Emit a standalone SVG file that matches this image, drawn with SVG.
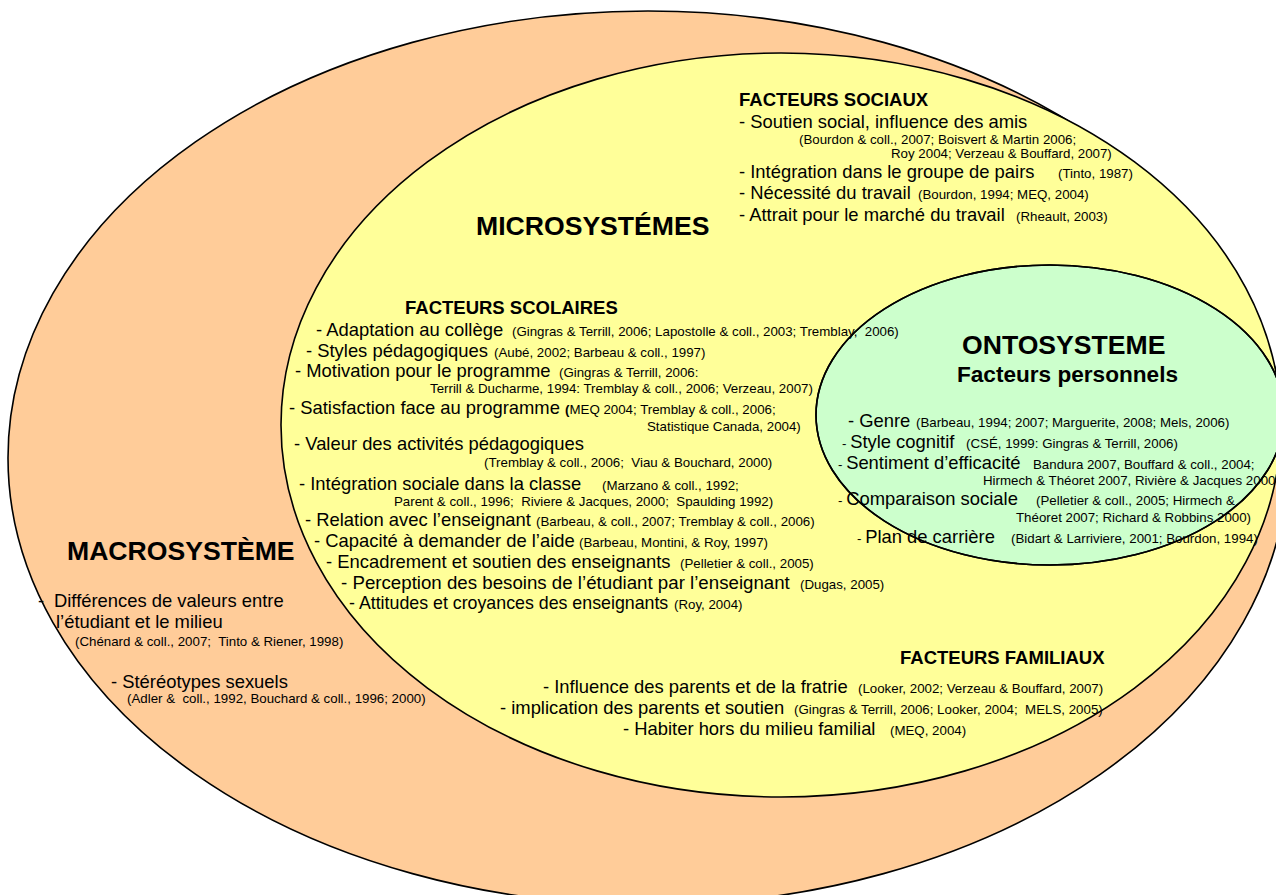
<svg xmlns="http://www.w3.org/2000/svg" xmlns:xlink="http://www.w3.org/1999/xlink" width="1276" height="895" viewBox="0 0 1276 895">
<style>
text { font-family: "Liberation Sans", Arial, sans-serif; fill: #000; white-space: pre; }
.m { font-size: 18.4px; }
.c { font-size: 13.3px; }
.h { font-size: 18.5px; font-weight: bold; }
.t { font-size: 26.6px; font-weight: bold; }
.s { font-size: 22.6px; font-weight: bold; }
.b { font-weight: bold; }
.shape { stroke: #000; stroke-width: 1.6; }
.outline { fill: none; stroke: #000; stroke-width: 1.6; }
</style>
<defs>
  <ellipse id="onto-shape" cx="1050" cy="415" rx="234" ry="150"/>
</defs>
<rect width="1276" height="895" fill="#fff"/>

<g id="macrosysteme">
  <ellipse class="shape" cx="648" cy="458" rx="640" ry="447" fill="#FFCC99"/>
  <text class="t" x="67" y="560">MACROSYSTÈME</text>
  <text class="m" x="38" y="607">-</text>
  <text class="m" x="54" y="607">Différences de valeurs entre</text>
  <text class="m" x="56" y="628">l’étudiant et le milieu</text>
  <text class="c" x="75" y="646">(Chénard &amp; coll., 2007;  Tinto &amp; Riener, 1998)</text>
  <text class="m" x="111" y="688">- Stéréotypes sexuels</text>
  <text class="c" x="127" y="703">(Adler &amp;  coll., 1992, Bouchard &amp; coll., 1996; 2000)</text>
</g>

<g id="microsystemes">
  <ellipse class="shape" cx="781" cy="425" rx="500" ry="372" fill="#FFFF99"/>
</g>

<g id="ontosysteme">
  <use xlink:href="#onto-shape" href="#onto-shape" class="shape" fill="#CCFFCC"/>
  <text class="t" x="962" y="354">ONTOSYSTEME</text>
  <text class="s" x="957" y="382">Facteurs personnels</text>
  <text class="m" x="848" y="427">- Genre<tspan class="c" x="916">(Barbeau, 1994; 2007; Marguerite, 2008; Mels, 2006)</tspan></text>
  <text class="m" x="842" y="448"><tspan class="c">- </tspan>Style cognitif<tspan class="c" x="966">(CSÉ, 1999: Gingras &amp; Terrill, 2006)</tspan></text>
  <text class="m" x="838" y="469"><tspan class="c">- </tspan>Sentiment d’efficacité<tspan class="c" x="1033">Bandura 2007, Bouffard &amp; coll., 2004;</tspan></text>
  <text class="c" x="983" y="485">Hirmech &amp; Théoret 2007, Rivière &amp; Jacques 2000</text>
  <text class="m" x="838" y="505"><tspan class="c">- </tspan>Comparaison sociale<tspan class="c" x="1036">(Pelletier &amp; coll., 2005; Hirmech &amp;</tspan></text>
  <text class="c" x="1016" y="522">Théoret 2007; Richard &amp; Robbins 2000)</text>
  <text class="m" x="857" y="543"><tspan class="c">- </tspan>Plan de carrière<tspan class="c" x="1011">(Bidart &amp; Larriviere, 2001; Bourdon, 1994)</tspan></text>
</g>

<g id="microsystemes-labels">
  <text class="t" x="476" y="235">MICROSYSTÉMES</text>
</g>

<g id="facteurs-sociaux">
  <text class="h" x="739" y="106">FACTEURS SOCIAUX</text>
  <text class="m" x="739" y="128">- Soutien social, influence des amis</text>
  <text class="c" x="799" y="144">(Bourdon &amp; coll., 2007; Boisvert &amp; Martin 2006;</text>
  <text class="c" x="891" y="158">Roy 2004; Verzeau &amp; Bouffard, 2007)</text>
  <text class="m" x="739" y="178">- Intégration dans le groupe de pairs<tspan class="c" x="1058">(Tinto, 1987)</tspan></text>
  <text class="m" x="739" y="199">- Nécessité du travail<tspan class="c" x="918">(Bourdon, 1994; MEQ, 2004)</tspan></text>
  <text class="m" x="739" y="221">- Attrait pour le marché du travail<tspan class="c" x="1016">(Rheault, 2003)</tspan></text>
</g>

<g id="facteurs-scolaires">
  <text class="h" x="405" y="314">FACTEURS SCOLAIRES</text>
  <text class="m" x="316" y="336">- Adaptation au collège<tspan class="c" x="512">(Gingras &amp; Terrill, 2006; Lapostolle &amp; coll., 2003; Tremblay,  2006)</tspan></text>
  <text class="m" x="306" y="357">- Styles pédagogiques<tspan class="c" x="494">(Aubé, 2002; Barbeau &amp; coll., 1997)</tspan></text>
  <text class="m" x="295" y="377">- Motivation pour le programme<tspan class="c" x="559">(Gingras &amp; Terrill, 2006:</tspan></text>
  <text class="c" x="430" y="393">Terrill &amp; Ducharme, 1994: Tremblay &amp; coll., 2006; Verzeau, 2007)</text>
  <text class="m" x="289" y="414">- Satisfaction face au programme<tspan class="c b" x="565">(</tspan><tspan class="c">MEQ 2004; Tremblay &amp; coll., 2006;</tspan></text>
  <text class="c" x="647" y="431">Statistique Canada, 2004)</text>
  <text class="m" x="294" y="450">- Valeur des activités pédagogiques</text>
  <text class="c" x="484" y="467">(Tremblay &amp; coll., 2006;  Viau &amp; Bouchard, 2000)</text>
  <text class="m" x="299" y="490">- Intégration sociale dans la classe<tspan class="c" x="602">(Marzano &amp; coll., 1992;</tspan></text>
  <text class="c" x="394" y="506">Parent &amp; coll., 1996;  Riviere &amp; Jacques, 2000;  Spaulding 1992)</text>
  <text class="m" x="305" y="526">- Relation avec l’enseignant<tspan class="c" x="536">(Barbeau, &amp; coll., 2007; Tremblay &amp; coll., 2006)</tspan></text>
  <text class="m" x="314" y="547">- Capacité à demander de l’aide<tspan class="c" x="579">(Barbeau, Montini, &amp; Roy, 1997)</tspan></text>
  <text class="m" x="326" y="568">- Encadrement et soutien des enseignants<tspan class="c" x="680">(Pelletier &amp; coll., 2005)</tspan></text>
  <text class="m" x="341" y="589" style="font-size:18.7px">- Perception des besoins de l’étudiant par l’enseignant<tspan class="c" x="800">(Dugas, 2005)</tspan></text>
  <text class="m" x="349" y="609" style="font-size:17.8px">- Attitudes et croyances des enseignants<tspan class="c" x="674">(Roy, 2004)</tspan></text>
</g>

<g id="facteurs-familiaux">
  <text class="h" x="900" y="664">FACTEURS FAMILIAUX</text>
  <text class="m" x="543" y="693">- Influence des parents et de la fratrie<tspan class="c" x="858">(Looker, 2002; Verzeau &amp; Bouffard, 2007)</tspan></text>
  <text class="m" x="500" y="714">- implication des parents et soutien<tspan class="c" x="794">(Gingras &amp; Terrill, 2006; Looker, 2004;  MELS, 2005)</tspan></text>
  <text class="m" x="623" y="735">- Habiter hors du milieu familial<tspan class="c" x="890">(MEQ, 2004)</tspan></text>
</g>

<g id="outlines">
  <use xlink:href="#onto-shape" href="#onto-shape" class="outline"/>
</g>

<g id="connectors"></g>
</svg>
